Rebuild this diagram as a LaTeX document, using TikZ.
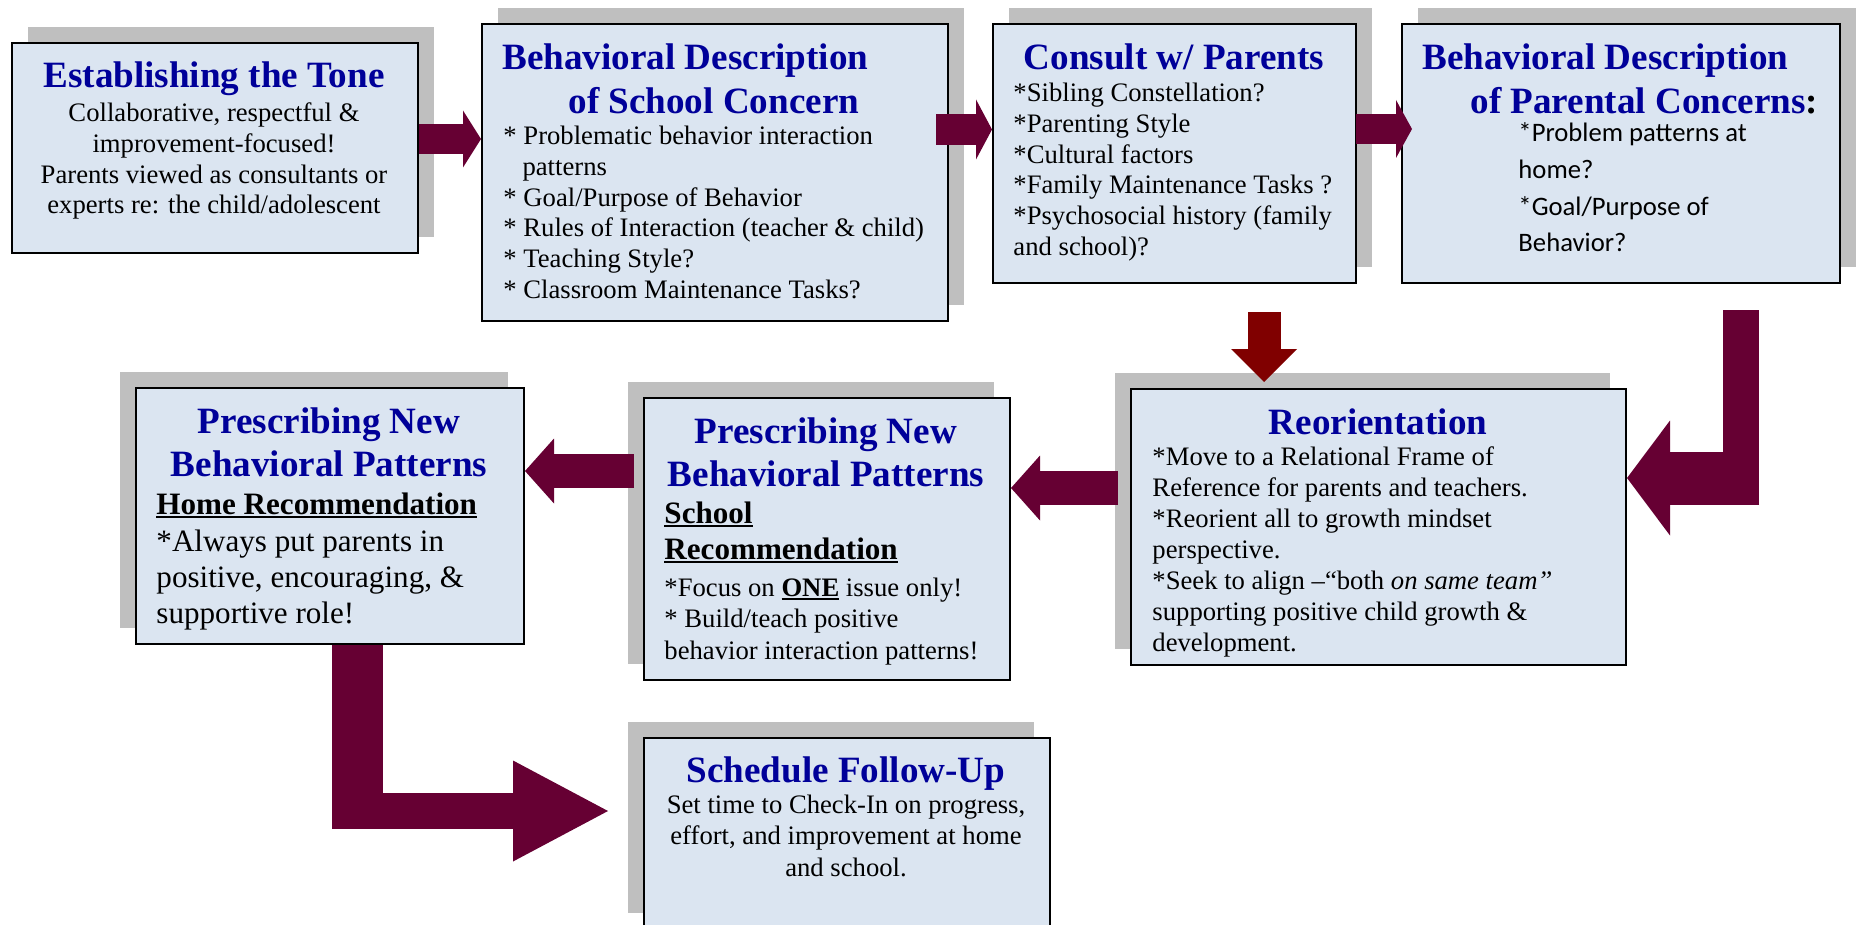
\documentclass[tikz,border=0pt]{standalone}
\usepackage{fontspec}
\setmainfont{Liberation Serif}
\newfontfamily\calibri{Carlito}
\usetikzlibrary{arrows.meta, shadows}

\definecolor{boxfill}{HTML}{DBE5F1}
\definecolor{shadowgray}{HTML}{BFBFBF}
\definecolor{titleblue}{HTML}{000099}
\definecolor{maroon}{HTML}{660033}
\definecolor{darkred}{HTML}{800000}

% heavy underline for the recommendation headings
\newcommand{\thickul}[1]{\setbox0\hbox{#1}\rlap{\rule[-2pt]{\wd0}{0.9pt}}\box0}
% stacked lines whose baseline is the first line
\newcommand{\lines}[2]{\begin{tabular}[t]{@{}#1@{}}#2\end{tabular}}

\begin{document}
\begin{tikzpicture}[x=0.45pt, y=-0.45pt,
            box/.style={rectangle, draw=black, line width=0.9pt, fill=boxfill, anchor=north west, inner sep=0pt},
            shadowright/.style={drop shadow={shadow xshift=7.2pt, shadow yshift=7.2pt, fill=shadowgray, opacity=1}},
            shadowleft/.style={drop shadow={shadow xshift=-7.2pt, shadow yshift=7.2pt, fill=shadowgray, opacity=1}},
            title/.style={inner sep=0pt, anchor=base, text=titleblue, font=\fontsize{16.7}{19.6}\selectfont\bfseries},
            body/.style={inner sep=0pt, anchor=base west, font=\fontsize{12}{13.8}\selectfont},
            flow/.style={draw=maroon, line width=#1},
            bighead/.style 2 args={arrows={-Triangle[length=#1, width=#2, line width=0pt]}}
        ]
            \useasboundingbox (0,0) rectangle (1856,925);

            % Top row of boxes
            \node[box, shadowright, minimum width=182.7pt, minimum height=94.5pt] (tone) at (11,42) {};
            \node[box, shadowright, minimum width=209.7pt, minimum height=133.65pt] (school) at (481,23) {};
            \node[box, shadowright, minimum width=163.35pt, minimum height=116.55pt] (consult) at (992,23) {};
            \node[box, shadowright, minimum width=197.1pt, minimum height=116.55pt] (parental) at (1401,23) {};

            \node[title] (tone-t) at (214,88) {Establishing the Tone};
            \node[body, anchor=base] (tone-b) at (214,122)
                {\lines{c}{Collaborative, respectful \&\\improvement-focused!\\Parents viewed as consultants or\\experts re: the child/adolescent}};

            \node[title, anchor=base west] (school-t) at (502,70)
                {\lines{l}{Behavioral Description\\\hspace*{29.7pt}of School Concern}};
            \node[body] (school-b) at (503,145)
                {\lines{l}{* Problematic behavior interaction\\\hspace*{8.6pt}patterns\\{}* Goal/Purpose of Behavior\\{}* Rules of Interaction (teacher \& child)\\{}* Teaching Style?\\{}* Classroom Maintenance Tasks?}};

            \node[title] (consult-t) at (1174,70) {Consult w/ Parents};
            \node[body] (consult-b) at (1013,102)
                {\lines{l}{*Sibling Constellation?\\{}*Parenting Style\\{}*Cultural factors\\{}*Family Maintenance Tasks ?\\{}*Psychosocial history (family\\and school)?}};

            \node[title, anchor=base west] (parental-t) at (1422,70)
                {\lines{l}{Behavioral Description\\\hspace*{21.6pt}of Parental Concerns\textcolor{black}{:}}};
            \node[body, font=\calibri\fontsize{12}{16.5}\selectfont] (parental-b) at (1518,142)
                {\lines{l}{*Problem patterns at\\home?\\{}*Goal/Purpose of\\Behavior?}};

            % Middle row of boxes
            \node[box, shadowleft, minimum width=174.6pt, minimum height=115.2pt] (homerec) at (135,387) {};
            \node[box, shadowleft, minimum width=164.7pt, minimum height=126.9pt] (schoolrec) at (643,397) {};
            \node[box, shadowleft, minimum width=222.75pt, minimum height=124.2pt] (reorient) at (1130,388) {};

            \node[title] (reorient-t) at (1378,434) {Reorientation};
            \node[body, font=\fontsize{12}{14}\selectfont] (reorient-b) at (1152,465)
                {\lines{l}{*Move to a Relational Frame of\\Reference for parents and teachers.\\{}*Reorient all to growth mindset\\perspective.\\{}*Seek to align –“both \textit{on same team”}\\supporting positive child growth \&\\development.}};

            \node[title] (schoolrec-t) at (826,443) {\lines{c}{Prescribing New\\Behavioral Patterns}};
            \node[body, font=\fontsize{14}{16.2}\selectfont\bfseries] (schoolrec-s) at (664,523)
                {\lines{l}{\thickul{School}\\\thickul{Recommendation}}};
            \node[body, font=\fontsize{12}{14.2}\selectfont] (schoolrec-b) at (664,596)
                {\lines{l}{*Focus on \textbf{\thickul{ONE}} issue only!\\{}* Build/teach positive\\behavior interaction patterns!}};

            \node[title] (homerec-t) at (329,433) {\lines{c}{Prescribing New\\Behavioral Patterns}};
            \node[body, font=\fontsize{14}{16.4}\selectfont\bfseries] (homerec-s) at (156,514)
                {\thickul{Home Recommendation}};
            \node[body, font=\fontsize{14}{16.4}\selectfont] (homerec-b) at (156,551)
                {\lines{l}{*Always put parents in\\positive, encouraging, \&\\supportive role!}};

            % Bottom box
            \node[box, shadowleft, minimum width=182.7pt, minimum height=85.95pt] (followup) at (643,737) {};
            \node[title] (followup-t) at (846,782) {Schedule Follow-Up};
            \node[body, anchor=base, font=\fontsize{12}{14.2}\selectfont] (followup-b) at (846,813)
                {\lines{c}{Set time to Check-In on progress,\\effort, and improvement at home\\and school.}};

            % Connections
            \draw[flow=13.5pt, bighead={8.1pt}{25.65pt}] (tone.east) ++(0,-9) coordinate (a1) -- (a1 -| school.west);
            \draw[flow=13.95pt, bighead={7.2pt}{27pt}] (school.east) ++(-13,-43) coordinate (a2) -- (a2 -| consult.west);
            \draw[flow=13.5pt, bighead={7.2pt}{26.1pt}] (consult.east) ++(-1,-24.5) coordinate (a3) -- (a3 -| parental.west) -- ++(11,0);

            \draw[flow=14.85pt, draw=darkred, bighead={14.85pt}{29.7pt}, shorten >=2.7pt]
                (consult.south) ++(89.5,28) coordinate (d1) -- (d1 |- reorient.north);

            \draw[flow=16.2pt] (parental.south) ++(120,26) coordinate (r1) -- ++(0,194);
            \draw[flow=23.85pt, bighead={19.35pt}{51.75pt}] (r1) ++(18,168) coordinate (r2) -- (r2 -| reorient.east);

            \draw[flow=15.3pt, bighead={13.05pt}{29.25pt}] (reorient.west) ++(-12,-39) coordinate (s1) -- (s1 -| schoolrec.east);
            \draw[flow=15.3pt, bighead={13.05pt}{29.25pt}] (schoolrec.west) ++(-9,-68) coordinate (h1) -- (h1 -| homerec.east);

            \draw[flow=22.95pt] (homerec.south) ++(27.5,0) coordinate (f1) -- ++(0,184);
            \draw[flow=16.2pt, bighead={42.75pt}{45.45pt}, shorten >=15.75pt] (f1) ++(-25.5,166) coordinate (f2) -- (f2 -| followup.west);
        \end{tikzpicture}
\end{document}
